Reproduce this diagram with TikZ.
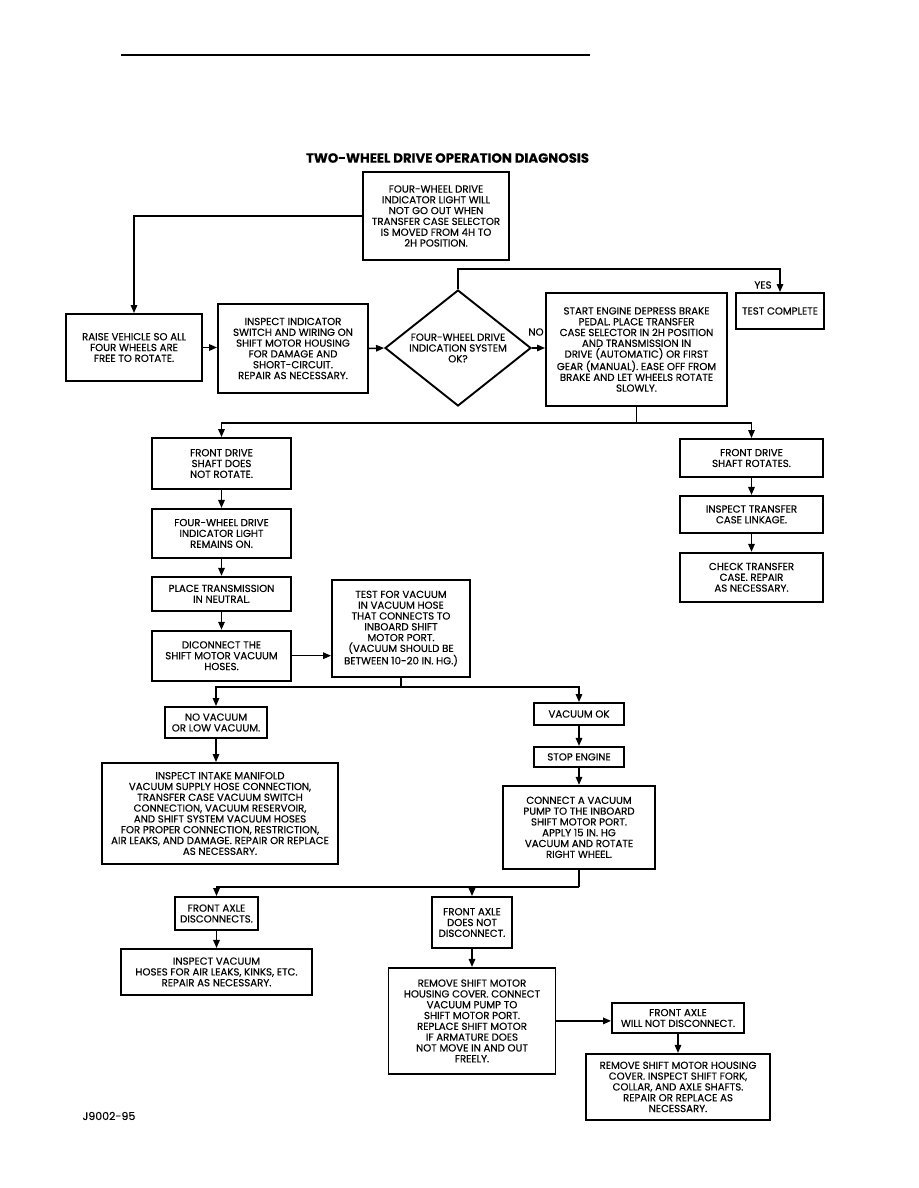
\documentclass[tikz,border=0pt]{standalone}
\usepackage{fontspec}
\setmainfont{Poppins}[FakeBold=0.35]
\usetikzlibrary{arrows.meta,positioning,calc,shapes.geometric}
\newcommand{\boxfont}{\fontsize{10.2}{10.8}\selectfont}

\begin{document}
\begin{tikzpicture}[x=1pt, y=-1pt,
  box/.style={draw, line width=1.9pt, align=center, inner sep=0pt, font=\boxfont},
  decision/.style={draw, diamond, aspect=1.26, line width=1.9pt, align=center, inner sep=0pt, font=\boxfont},
  note/.style={align=center, font=\boxfont},
  arr/.style={-{Triangle[length=8pt,width=6.5pt]}, line width=1.5pt},
  wire/.style={line width=1.5pt}
]
\useasboundingbox (0,0) rectangle (918,1188);

\draw[line width=2.6pt] (121,55) -- (590,55);
\node[font=\fontsize{13.3}{15}\selectfont\bfseries] (title) at (447.5,158) {TWO-WHEEL DRIVE OPERATION DIAGNOSIS};

% top row
\node[box, minimum width=146pt, minimum height=88pt] (start) at (436,216)
  {FOUR-WHEEL DRIVE\\INDICATOR LIGHT WILL\\NOT GO OUT WHEN\\TRANSFER CASE SELECTOR\\IS MOVED FROM 4H TO\\2H POSITION.};
\node[box, minimum width=136pt, minimum height=67pt] (raise) at (134,347.5)
  {RAISE VEHICLE SO ALL\\FOUR WHEELS ARE\\FREE TO ROTATE.};
\node[box, minimum width=150pt, minimum height=89pt] (inspind) at (293,348.5)
  {INSPECT INDICATOR\\SWITCH AND WIRING ON\\SHIFT MOTOR HOUSING\\FOR DAMAGE AND\\SHORT-CIRCUIT.\\REPAIR AS NECESSARY.};
\node[decision, minimum width=146pt, minimum height=116pt] (diag) at (458,348)
  {FOUR-WHEEL DRIVE\\INDICATION SYSTEM\\OK?};
\node[box, minimum width=181pt, minimum height=113pt] (engine) at (636.5,349.5)
  {START ENGINE DEPRESS BRAKE\\PEDAL. PLACE TRANSFER\\CASE SELECTOR IN 2H POSITION\\AND TRANSMISSION IN\\DRIVE (AUTOMATIC) OR FIRST\\GEAR (MANUAL). EASE OFF FROM\\BRAKE AND LET WHEELS ROTATE\\SLOWLY.};
\node[box, minimum width=88pt, minimum height=36pt] (done) at (780,311) {TEST COMPLETE};
\node[note] (yes) at (763,285) {YES};
\node[note] (no) at (536,332) {NO};

\draw[arr] (start.west) -| (raise.north);
\draw[arr] (raise.east) -- (raise.east -| inspind.west);
\draw[arr] (inspind.east) -- (diag.west);
\draw[arr] (diag.east) -- (diag.east -| engine.west);
\draw[arr] (diag.north) -- ++(0,-20) -| (done.north);

% left column
\node[box, minimum width=139pt, minimum height=51pt] (fdnr) at (221.5,463.5)
  {FRONT DRIVE\\SHAFT DOES\\NOT ROTATE.};
\node[box, minimum width=139pt, minimum height=49pt, below=18pt of fdnr] (light)
  {FOUR-WHEEL DRIVE\\INDICATOR LIGHT\\REMAINS ON.};
\node[box, minimum width=139pt, minimum height=34pt, below=17pt of light] (neutral)
  {PLACE TRANSMISSION\\IN NEUTRAL.};
\node[box, minimum width=139pt, minimum height=50pt, below=18pt of neutral] (disc)
  {DICONNECT THE\\SHIFT MOTOR VACUUM\\HOSES.};
\node[box, minimum width=138pt, minimum height=97pt] (vtest) at (401,628.5)
  {TEST FOR VACUUM\\IN VACUUM HOSE\\THAT CONNECTS TO\\INBOARD SHIFT\\MOTOR PORT.\\(VACUUM SHOULD BE\\BETWEEN 10-20 IN. HG.)};

% right column
\node[box, minimum width=143pt, minimum height=38pt] (fdr) at (751.5,458)
  {FRONT DRIVE\\SHAFT ROTATES.};
\node[box, minimum width=143pt, minimum height=37pt, below=17pt of fdr] (linkage)
  {INSPECT TRANSFER\\CASE LINKAGE.};
\node[box, minimum width=143pt, minimum height=49pt, below=18pt of linkage] (checktc)
  {CHECK TRANSFER\\CASE. REPAIR\\AS NECESSARY.};

\draw[wire] (engine.south) -- ++(0,16) coordinate (fork1);
\draw[arr] (fork1) -| (fdnr.north);
\draw[arr] (fork1) -| (fdr.north);
\draw[arr] (fdnr) -- (light);
\draw[arr] (light) -- (neutral);
\draw[arr] (neutral) -- (disc);
\draw[arr] (disc.east) -- (disc.east -| vtest.west);
\draw[arr] (fdr) -- (linkage);
\draw[arr] (linkage) -- (checktc);

% vacuum test results
\node[box, minimum width=102pt, minimum height=31pt] (novac) at (216,722.5)
  {NO VACUUM\\OR LOW VACUUM.};
\node[box, minimum width=236pt, minimum height=101pt] (intake) at (220,813.5)
  {INSPECT INTAKE MANIFOLD\\VACUUM SUPPLY HOSE CONNECTION,\\TRANSFER CASE VACUUM SWITCH\\CONNECTION, VACUUM RESERVOIR,\\AND SHIFT SYSTEM VACUUM HOSES\\FOR PROPER CONNECTION, RESTRICTION,\\AIR LEAKS, AND DAMAGE. REPAIR OR REPLACE\\AS NECESSARY.};
\node[box, minimum width=90pt, minimum height=22pt] (vacok) at (579,714) {VACUUM OK};
\node[box, minimum width=90pt, minimum height=20pt, below=20pt of vacok] (stop) {STOP ENGINE};
\node[box, minimum width=152pt, minimum height=83pt, below=17pt of stop] (pump)
  {CONNECT A VACUUM\\PUMP TO THE INBOARD\\SHIFT MOTOR PORT.\\APPLY 15 IN. HG\\VACUUM AND ROTATE\\RIGHT WHEEL.};

\draw[wire] (vtest.south) -- ++(0,9) coordinate (fork2);
\draw[arr] (fork2) -| (novac.north);
\draw[arr] (fork2) -| (vacok.north);
\draw[arr] (novac.south) -- (novac.south |- intake.north);
\draw[arr] (vacok) -- (stop);
\draw[arr] (stop) -- (pump);

% axle check
\node[box, minimum width=83pt, minimum height=33pt] (axledisc) at (216.5,913.5)
  {FRONT AXLE\\DISCONNECTS.};
\node[box, minimum width=191pt, minimum height=46pt, below=17pt of axledisc] (hoses)
  {INSPECT VACUUM\\HOSES FOR AIR LEAKS, KINKS, ETC.\\REPAIR AS NECESSARY.};
\node[box, minimum width=80pt, minimum height=51pt] (axlenot) at (472,922.5)
  {FRONT AXLE\\DOES NOT\\DISCONNECT.};
\node[box, minimum width=167pt, minimum height=106pt, below=18pt of axlenot] (motor)
  {REMOVE SHIFT MOTOR\\HOUSING COVER. CONNECT\\VACUUM PUMP TO\\SHIFT MOTOR PORT.\\REPLACE SHIFT MOTOR\\IF ARMATURE DOES\\NOT MOVE IN AND OUT\\FREELY.};
\node[box, minimum width=132pt, minimum height=30pt] (willnot) at (678,1018)
  {FRONT AXLE\\WILL NOT DISCONNECT.};
\node[box, minimum width=184pt, minimum height=66pt, below=19pt of willnot] (housing)
  {REMOVE SHIFT MOTOR HOUSING\\COVER. INSPECT SHIFT FORK,\\COLLAR, AND AXLE SHAFTS.\\REPAIR OR REPLACE AS\\NECESSARY.};

\draw[wire] (pump.south) -- ++(0,17) coordinate (fork3);
\draw[arr] (fork3) -| (axledisc.north);
\draw[arr] (fork3 -| axlenot.north) -- (axlenot.north);
\draw[arr] (axledisc) -- (hoses);
\draw[arr] (axlenot) -- (motor);
\draw[arr] (motor.east) -- (motor.east -| willnot.west);
\draw[arr] (willnot) -- (housing);

\node[font=\fontsize{11}{13}\selectfont, anchor=west] (figid) at (79,1116) {J9002-95};
\end{tikzpicture}
\end{document}
